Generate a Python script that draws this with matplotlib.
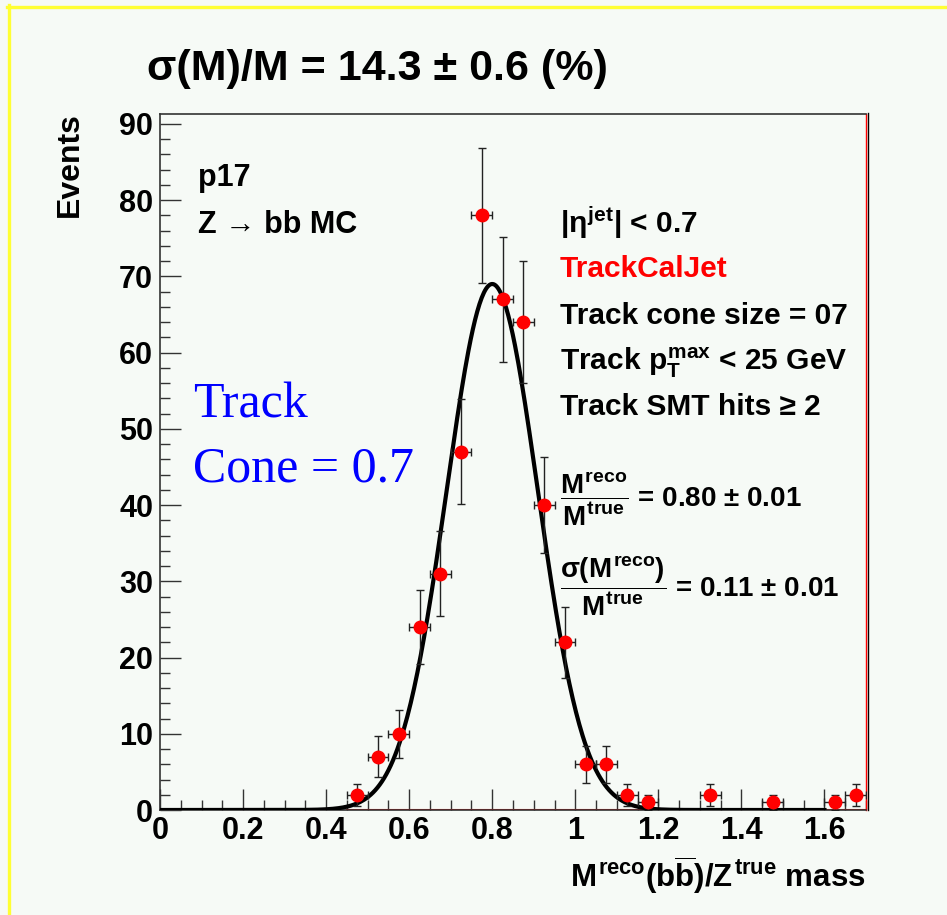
import numpy as np
import matplotlib
matplotlib.use('Agg')
import matplotlib.pyplot as plt
from matplotlib.lines import Line2D
from matplotlib.ticker import MultipleLocator, FormatStrFormatter

plt.rcParams['font.family'] = ['Liberation Sans', 'DejaVu Sans']
plt.rcParams['font.weight'] = 'bold'
plt.rcParams['mathtext.fontset'] = 'custom'
plt.rcParams['mathtext.rm'] = 'Liberation Sans:bold'
plt.rcParams['mathtext.it'] = 'Liberation Sans:bold'
plt.rcParams['mathtext.bf'] = 'Liberation Sans:bold'
plt.rcParams['mathtext.sf'] = 'Liberation Sans:bold'

# histogram of M_reco / Z_true (bin centres, bin width 0.05)
bin_centers = [0.475, 0.525, 0.575, 0.625, 0.675, 0.725, 0.775, 0.825, 0.875, 0.925,
               0.975, 1.025, 1.075, 1.125, 1.175, 1.325, 1.475, 1.625, 1.675]
counts = [2, 7, 10, 24, 31, 47, 78, 67, 64, 40, 22, 6, 6, 2, 1, 2, 1, 1, 2]
bin_half_width = 0.025

# gaussian fit result
fit_amp = 69.0
fit_mean = 0.80
fit_sigma = 0.11
fit_range = (0.0, 1.6)

x_ticks = [0, 0.2, 0.4, 0.6, 0.8, 1.0, 1.2, 1.4, 1.6]
y_ticks = [0, 10, 20, 30, 40, 50, 60, 70, 80, 90]

W, H = 947, 915
bg = '#f6faf6'
fig = plt.figure(figsize=(W / 100, H / 100), dpi=100, facecolor=bg)


def fx(x):
    return x / W


def fy(y):
    return 1 - y / H


ax = fig.add_axes([fx(160), fy(810), fx(866) - fx(160), fy(114) - fy(810)])
ax.set_facecolor(bg)

# fit curve
xs = np.linspace(fit_range[0], fit_range[1], 600)
ax.plot(xs, fit_amp * np.exp(-0.5 * ((xs - fit_mean) / fit_sigma) ** 2),
        color='black', lw=3.0, zorder=3)

# histogram outline at zero + data points
ax.plot([bin_centers[0] - bin_half_width, 1.7], [0, 0], color='red', lw=1.5, zorder=2)
ax.errorbar(bin_centers, counts, yerr=np.sqrt(counts), xerr=bin_half_width,
            fmt='o', color='red', ms=9, ecolor='#222222', elinewidth=1.0,
            capsize=3, capthick=1.0, zorder=4)

ax.set_xlim(0, 1.7)
ax.set_ylim(0, 91.3)
ax.set_xticks(x_ticks)
ax.set_yticks(y_ticks)
ax.xaxis.set_minor_locator(MultipleLocator(0.05))
ax.yaxis.set_minor_locator(MultipleLocator(2))
ax.xaxis.set_major_formatter(FormatStrFormatter('%g'))
ax.tick_params(which='both', direction='in', color='#333333', width=1.0,
               labelsize=22, top=False, right=False)
ax.tick_params(which='major', length=15)
ax.tick_params(which='minor', length=7.5)
ax.tick_params(axis='x', pad=4)
ax.tick_params(axis='y', pad=5)
for lab in ax.get_xticklabels() + ax.get_yticklabels():
    lab.set_fontweight('bold')

for s in ['left', 'bottom', 'top']:
    ax.spines[s].set_color('#333333')
    ax.spines[s].set_linewidth(1.2)
ax.spines['right'].set_color('red')
ax.spines['right'].set_linewidth(1.0)
ax.plot([1.0025, 1.0025], [0, 1.002], transform=ax.transAxes, color='black',
        lw=1.0, clip_on=False)

# yellow frame (top and left only)
fig.add_artist(Line2D([fx(7), 1], [fy(6.5), fy(6.5)], color='#ffff33', lw=2.4))
fig.add_artist(Line2D([fx(8.5), fx(8.5)], [0, fy(5)], color='#ffff33', lw=2.4))

# titles and axis labels
fig.text(fx(147), fy(80), 'σ(M)/M = 14.3 ± 0.6 (%)', fontsize=31,
         fontweight='bold', va='baseline', ha='left')
fig.text(fx(70), fy(112), 'Events', rotation=90, fontsize=23,
         fontweight='bold', ha='center', va='top')
fig.text(fx(866), fy(887), r'$M^{reco}(b\overline{b})/Z^{true}$ mass', fontsize=22.5,
         fontweight='bold', ha='right', va='baseline')

# labels inside the frame
fig.text(fx(198), fy(186), 'p17', fontsize=22, fontweight='bold', va='baseline')
fig.text(fx(198), fy(233), 'Z → bb MC', fontsize=22, fontweight='bold', va='baseline')

fig.text(fx(193), fy(418), 'Track', fontsize=36, color='blue', fontweight='normal',
         family='Liberation Serif', va='baseline')
fig.text(fx(193), fy(482), 'Cone = 0.7', fontsize=36, color='blue', fontweight='normal',
         family='Liberation Serif', va='baseline')

rx = fx(560)
fs = 21.5
fig.text(rx, fy(233), r'$|η^{jet}|$ < 0.7', fontsize=fs, fontweight='bold', va='baseline')
fig.text(rx, fy(277), 'TrackCalJet', fontsize=fs, fontweight='bold', color='red',
         va='baseline')
fig.text(rx, fy(324), 'Track cone size = 07', fontsize=fs, fontweight='bold',
         va='baseline')
fig.text(rx, fy(370), r'Track $p_T^{max}$ < 25 GeV', fontsize=fs, fontweight='bold',
         va='baseline')
fig.text(rx, fy(415), 'Track SMT hits ≥ 2', fontsize=fs, fontweight='bold',
         va='baseline')
fig.text(rx, fy(507), r'$\dfrac{M^{reco}}{M^{true}}$ = 0.80 ± 0.01', fontsize=20,
         fontweight='bold', va='baseline')
fig.text(rx, fy(597), r'$\dfrac{σ(M^{reco})}{M^{true}}$ = 0.11 ± 0.01', fontsize=20,
         fontweight='bold', va='baseline')

fig.savefig('out.png', dpi=100, facecolor=bg)
